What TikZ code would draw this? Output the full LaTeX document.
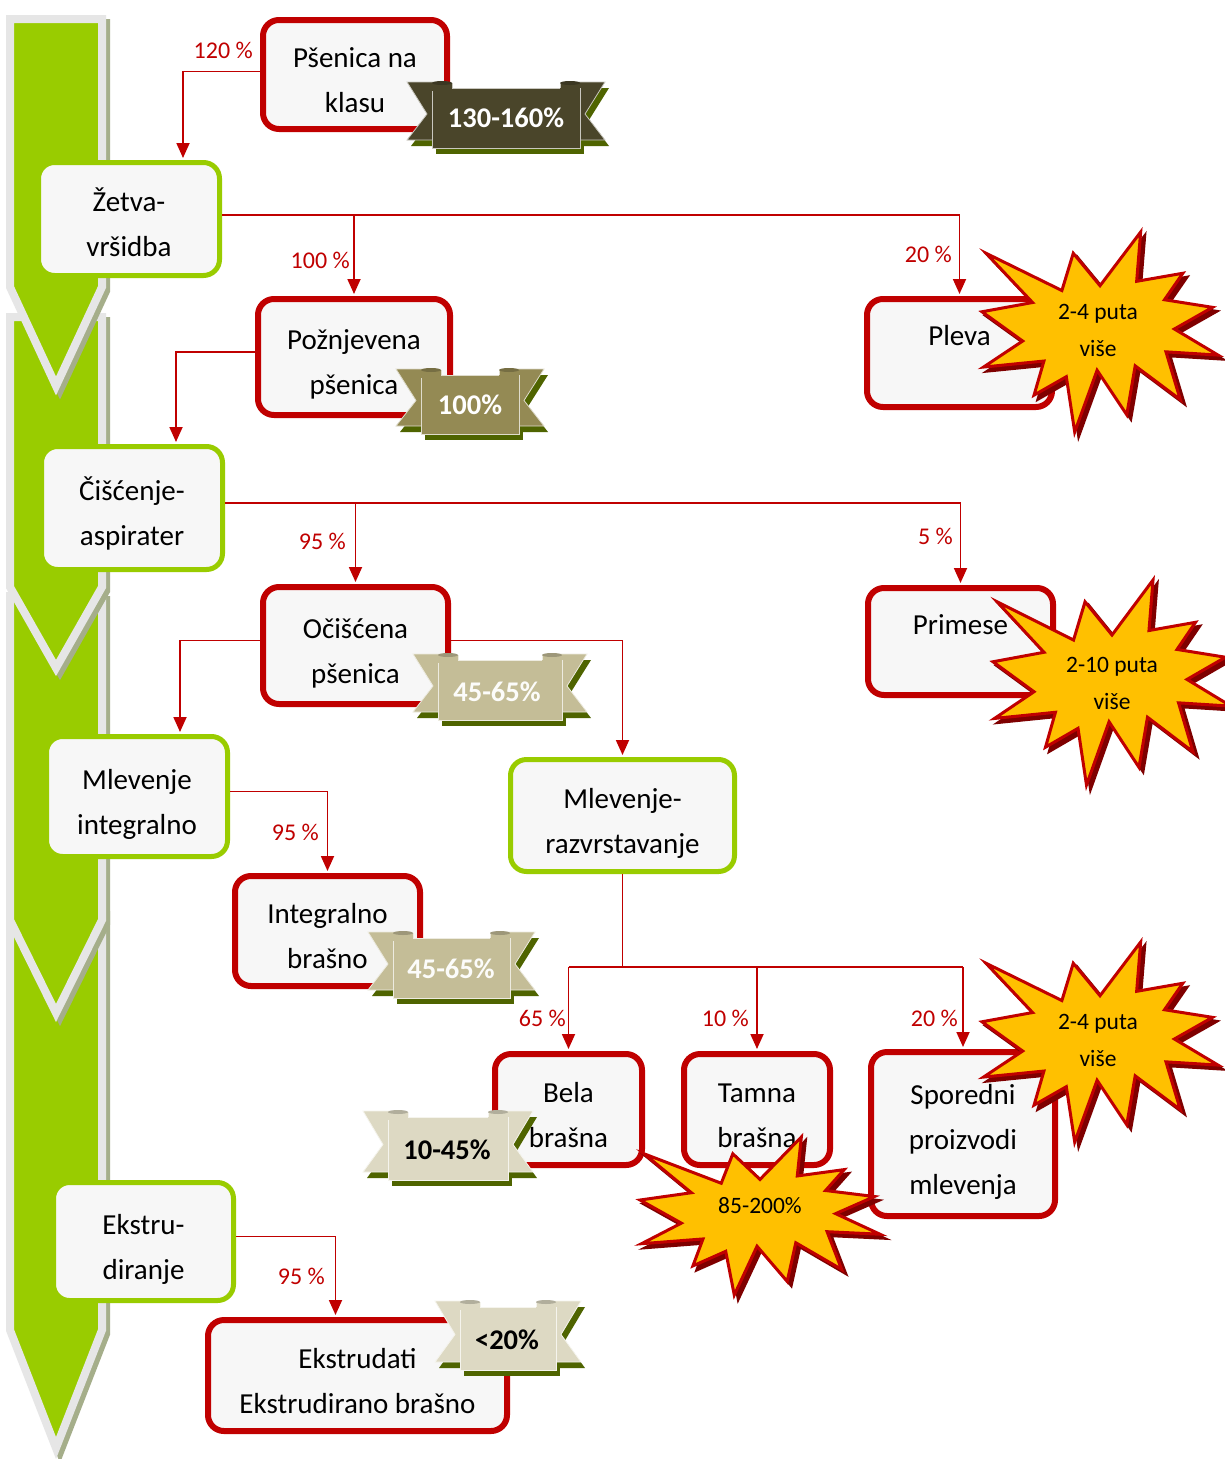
\documentclass[tikz,border=0pt]{standalone}
\usepackage{fontspec}
\setmainfont{Carlito}
\usetikzlibrary{arrows.meta,calc}

\definecolor{stepgreen}{HTML}{99CC00}
\definecolor{prodred}{HTML}{C00000}
\definecolor{boxfill}{HTML}{F7F7F7}
\definecolor{arrowgray}{HTML}{E6E6E6}
\definecolor{arrowshadow}{HTML}{A5AE8A}
\definecolor{burstfill}{HTML}{FFC000}
\definecolor{burstshadow}{HTML}{7F0000}
\definecolor{ribbonshadow}{HTML}{4F6400}
\definecolor{ribA}{HTML}{4A452A}
\definecolor{ribB}{HTML}{948A54}
\definecolor{ribC}{HTML}{C4BD97}
\definecolor{ribD}{HTML}{DDD9C3}

\newcommand{\tb}{\rule{0pt}{38pt}}
\newcommand{\te}{\rule[-8pt]{0pt}{8pt}}

\newcommand{\trunkseg}[3]{%
  \begin{scope}[shift={(4,4)}]
    \filldraw[arrowshadow, line width=8pt, line join=miter] (10,#1) -- (102,#1) -- (102,#2) -- (56,#3) -- (10,#2) -- cycle;
  \end{scope}
  \filldraw[fill=stepgreen, draw=arrowgray, line width=8pt, line join=miter] (10,#1) -- (102,#1) -- (102,#2) -- (56,#3) -- (10,#2) -- cycle;}

\newcommand{\burstpts}{(50,26.85) -- (67.23,0) -- (65.53,24.65) -- (85.09,20.63) -- (77.32,33.87) -- (97.67,37.67) -- (81.51,48.50) -- (100,61.53) -- (77.95,59.92) -- (84.00,83.77) -- (64.91,66.93) -- (61.33,91.38) -- (48.76,69.14) -- (39.28,100) -- (35.72,72.35) -- (22.05,81.56) -- (26.24,64.52) -- (0.63,67.53) -- (17.23,54.51) -- (0,39.88) -- (21.42,35.26) -- (1.71,10.63) -- (33.85,29.26) -- (38.67,10.63) -- cycle}

\newcommand{\burst}[4]{%
  \begin{scope}[shift={({#1+4},{#2+4})},xscale=#3/100,yscale=#4/100]
    \filldraw[burstshadow, line width=3pt] \burstpts;
  \end{scope}
  \begin{scope}[shift={(#1,#2)},xscale=#3/100,yscale=#4/100]
    \filldraw[fill=burstfill, draw=prodred, line width=3pt] \burstpts;
  \end{scope}}

\newcommand{\ribbontails}[4]{%
  ({#1+15},{#2-6}) -- ({#1-25},{#2-6}) -- ({#1-5},{(#2+#4)/2-4}) -- ({#1-25},{#4-8}) -- ({#1+15},{#4-8}) -- cycle
  ({#3-15},{#2-6}) -- ({#3+25},{#2-6}) -- ({#3+5},{(#2+#4)/2-4}) -- ({#3+25},{#4-8}) -- ({#3-15},{#4-8}) -- cycle}

\newcommand{\ribbonbg}[5]{%
  \begin{scope}[shift={(4,6)}]
    \fill[ribbonshadow] \ribbontails{#1}{#2}{#3}{#4};
    \fill[ribbonshadow] (#1,#2) rectangle (#3,#4);
  \end{scope}
  \filldraw[fill=#5, draw=white!70!#5, line width=0.8pt] \ribbontails{#1}{#2}{#3}{#4};
  \filldraw[fill=#5, draw=white!70!#5, line width=0.8pt] (#1,#2) rectangle (#3,#4);
  \fill[#5] (#1,{#2-5}) rectangle ({#1+20},{#2+3});
  \fill[#5] ({#3-20},{#2-5}) rectangle (#3,{#2+3});
  \draw[white!70!#5, line width=0.6pt] ({#1+20},{#2-5}) -- ({#1+20},{#2});
  \draw[white!70!#5, line width=0.6pt] ({#3-20},{#2-5}) -- ({#3-20},{#2});
  \fill[#5!80!black] ({#1+10},{#2-5}) ellipse [x radius=10, y radius=2];
  \fill[#5!80!black] ({#3-10},{#2-5}) ellipse [x radius=10, y radius=2];}

\begin{document}
\begin{tikzpicture}[x=1pt,y=-1pt,
  boxtext/.style={align=center, font=\fontsize{29}{45}\selectfont, text=black, inner sep=0pt},
  stepbox/.style={boxtext, draw=stepgreen, line width=5pt, fill=boxfill, rounded corners=16pt},
  prodbox/.style={boxtext, draw=prodred, line width=6pt, fill=boxfill, rounded corners=16pt},
  flow/.style={draw=prodred, line width=1.8pt, -{Triangle[length=15pt,width=13pt]}, shorten >=2pt},
  trunkline/.style={draw=prodred, line width=1.8pt},
  pct/.style={text=prodred, font=\fontsize{24}{28}\selectfont, inner sep=0pt, anchor=east},
  bursttext/.style={align=center, font=\fontsize{23.5}{37}\selectfont, text=black, inner sep=0pt},
  ribtext/.style={font=\bfseries\fontsize{28.5}{34}\selectfont, inner sep=0pt},
]
\useasboundingbox (0,0) rectangle (1225,1459);
\fill[white] (0,0) rectangle (1225,1459);

% left process arrow
\trunkseg{911}{1330}{1448}
\trunkseg{596}{920}{1013}
\trunkseg{317}{587}{668}
\trunkseg{19}{287}{386}

% process steps
\node[stepbox, minimum width=181pt, minimum height=113pt] (zetva) at (129,219) {\tb Žetva-\\vršidba\te};
\node[stepbox, minimum width=181pt, minimum height=123pt] (cisc) at (132,508) {\tb Čišćenje-\\aspirater\te};
\node[stepbox, minimum width=181pt, minimum height=120pt] (mlint) at (137,796.5) {\tb Mlevenje\\integralno\te};
\node[stepbox, minimum width=224pt, minimum height=112pt] (mlraz) at (622.5,815.5) {\tb Mlevenje-\\razvrstavanje\te};
\node[stepbox, minimum width=180pt, minimum height=118pt] (ekstr) at (143.5,1241.5) {\tb Ekstru-\\diranje\te};

% products
\node[prodbox, minimum width=184pt, minimum height=109pt] (psen) at (355,74.5) {\tb Pšenica na\\klasu\te};
\node[prodbox, minimum width=192pt, minimum height=116pt] (pozn) at (354,357) {\tb Požnjevena\\pšenica\te};
\node[prodbox, minimum width=185pt, minimum height=108pt] (pleva) at (959.5,353) {\tb Pleva\\\te};
\node[prodbox, minimum width=185pt, minimum height=117pt] (ocisc) at (355.5,645.5) {\tb Očišćena\\pšenica\te};
\node[prodbox, minimum width=185pt, minimum height=107pt] (primese) at (960.5,641.5) {\tb Primese\\\te};
\node[prodbox, minimum width=185pt, minimum height=110pt] (intbr) at (327.5,931) {\tb Integralno\\brašno\te};
\node[prodbox, minimum width=147pt, minimum height=111pt] (bela) at (568.5,1109.5) {\tb Bela\\brašna\te};
\node[prodbox, minimum width=146pt, minimum height=111pt] (tamna) at (757,1109.5) {\tb Tamna\\brašna\te};
\node[prodbox, minimum width=184pt, minimum height=164pt] (spor) at (963,1134) {\tb Sporedni\\proizvodi\\mlevenja\te};
\node[prodbox, minimum width=299pt, minimum height=111pt] (ekstrd) at (357.5,1375.5) {\tb Ekstrudati\\Ekstrudirano brašno\te};

% connectors
\coordinate (psout) at ([yshift=3pt]psen.west);
\coordinate (zout) at ([yshift=4pt]zetva.east);
\coordinate (pzout) at ([yshift=5pt]pozn.west);
\coordinate (cout) at ([yshift=5pt]cisc.east);
\coordinate (ocl) at ([yshift=5pt]ocisc.west);
\coordinate (ocr) at ([yshift=5pt]ocisc.east);
\coordinate (mlout) at ([yshift=5pt]mlint.east);
\coordinate (ekout) at ([yshift=5pt]ekstr.east);

\draw[flow] (psout) -| ([xshift=54pt]zetva.north);
\draw[flow] (zout) -| (pleva.north);
\draw[flow] (zout -| pozn.north) -- (pozn.north);
\draw[flow] (pzout) -| ([xshift=44pt]cisc.north);
\draw[flow] (cout) -| (primese.north);
\draw[flow] (cout -| ocisc.north) -- (ocisc.north);
\draw[flow] (ocl) -| ([xshift=43pt]mlint.north);
\draw[flow] (ocr) -| (mlraz.north);
\draw[flow] (mlout) -| (intbr.north);
\draw[trunkline] (mlraz.south) -- ++(0,93) coordinate (split);
\draw[trunkline] (split -| bela.north) -- (split -| spor.north);
\draw[flow] (split -| bela.north) -- (bela.north);
\draw[flow] (split -| tamna.north) -- (tamna.north);
\draw[flow] (split -| spor.north) -- (spor.north);
\draw[flow] (ekout) -| ([xshift=-22pt]ekstrd.north);

% percentage labels
\node[pct] (l1) at (253,50) {120 \%};
\node[pct] (l2) at (350,260) {100 \%};
\node[pct] (l3) at (952,254) {20 \%};
\node[pct] (l4) at (346,541) {95 \%};
\node[pct] (l5) at (953,536) {5 \%};
\node[pct] (l6) at (319,832) {95 \%};
\node[pct] (l7) at (566,1018) {65 \%};
\node[pct] (l8) at (749,1018) {10 \%};
\node[pct] (l9) at (958,1018) {20 \%};
\node[pct] (l10) at (325,1276) {95 \%};

% ribbons
\ribbonbg{432}{88}{580}{148}{ribA}
\node[ribtext, text=white] (r1) at (506,118) {130-160\%};
\ribbonbg{421}{375}{519}{434}{ribB}
\node[ribtext, text=white] (r2) at (470,405) {100\%};
\ribbonbg{438}{660}{562}{720}{ribC}
\node[ribtext, text=white!95!ribC] (r3) at (497,692) {45-65\%};
\ribbonbg{393}{938}{510}{998}{ribC}
\node[ribtext, text=white!95!ribC] (r4) at (451,969) {45-65\%};
\ribbonbg{388}{1117}{508}{1180}{ribD}
\node[ribtext, text=black] (r5) at (447,1150) {10-45\%};
\ribbonbg{460}{1307}{556}{1370}{ribD}
\node[ribtext, text=black] (r6) at (507,1340) {<20\%};

% starbursts
\burst{982}{232}{236}{200}
\node[bursttext] (b1) at (1098,330) {2-4 puta\\više};
\burst{993}{580}{238}{205}
\node[bursttext] (b2) at (1112,683) {2-10 puta\\više};
\burst{982}{942}{236}{200}
\node[bursttext] (b3) at (1098,1040) {2-4 puta\\više};
\burst{640}{1137}{240}{158}
\node[bursttext] (b4) at (760,1206) {85-200\%};

\end{tikzpicture}
\end{document}
